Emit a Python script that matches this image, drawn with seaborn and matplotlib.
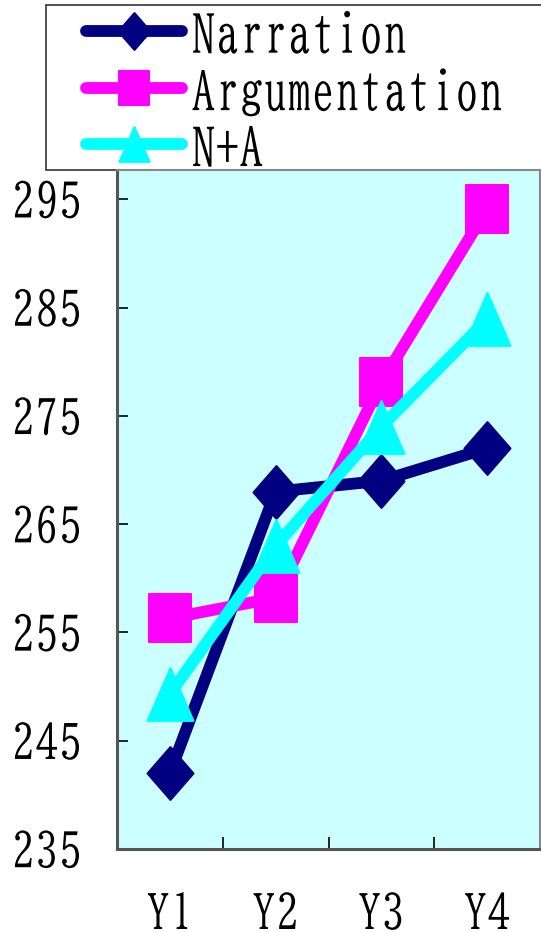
import matplotlib
matplotlib.use("Agg")
import matplotlib.pyplot as plt
import seaborn as sns
from matplotlib import patheffects
from matplotlib.path import Path
from matplotlib.patches import Rectangle
from matplotlib.transforms import Affine2D

# Scores per school year
years = ["Y1", "Y2", "Y3", "Y4"]
narration = [242.0, 268.0, 269.0, 272.0]
argumentation = [256.3, 258.2, 278.1, 294.1]
n_plus_a = [249.3, 263.0, 274.0, 283.9]
series_names = ["Narration", "Argumentation", "N+A"]
y_ticks = [235, 245, 255, 265, 275, 285, 295]

colors = ["#000080", "#FF00FF", "#00FFFF"]

plt.rcParams["font.family"] = ["BIZ UDMincho", "DejaVu Serif"]


class TallText(patheffects.AbstractPathEffect):
    """Stretch glyphs vertically about the middle of the cap height,
    optionally nudging them up or down (glyph units, 100 per em)."""

    def __init__(self, sy, yc=36, dy=0):
        super().__init__()
        self._t = Affine2D().translate(0, -yc).scale(1, sy).translate(0, yc + dy)

    def draw_path(self, renderer, gc, tpath, affine, rgbFace=None):
        renderer.draw_path(gc, tpath, self._t + affine, rgbFace)


# slightly tall marker shapes
diamond = Path([(0, 1), (0.87, 0), (0, -1), (-0.87, 0), (0, 1)], closed=True)
square = Path([(-0.88, -1), (0.88, -1), (0.88, 1), (-0.88, 1), (-0.88, -1)], closed=True)
triangle = Path([(0, 1), (0.87, -1), (-0.87, -1), (0, 1)], closed=True)
markers = [diamond, square, triangle]
marker_sizes = [38, 35, 38]
legend_marker_sizes = [26.5, 24, 25]

fig = plt.figure(figsize=(5.41, 9.32), dpi=100)
ax = fig.add_axes([117 / 541, (932 - 849) / 932, 423 / 541, 679 / 932])
ax.set_facecolor("#CCFFFF")

for name, vals, col, mk, ms in zip(series_names, [narration, argumentation, n_plus_a],
                                   colors, markers, marker_sizes):
    sns.lineplot(x=years, y=vals, ax=ax, sort=False, color=col, linewidth=8.5,
                 marker=mk, markersize=ms, markerfacecolor=col, markeredgecolor=col,
                 markeredgewidth=1.5, solid_capstyle="round", solid_joinstyle="round",
                 label=name)

ax.set_xlim(-0.5, 3.5)
ax.set_ylim(235, 297.7)
ax.set_yticks(y_ticks)
ax.set_xticks(range(len(years)))
ax.set_xticklabels(years)
ax.set_xticks([0.5, 1.5, 2.5], minor=True)
ax.set_xlabel("")
ax.set_ylabel("")

tick_fs = 34
ax.tick_params(axis="y", direction="in", length=8, width=1.2, color="black",
               pad=25, labelsize=tick_fs)
ax.tick_params(axis="x", which="major", length=0, pad=30, labelsize=tick_fs)
ax.tick_params(axis="x", which="minor", direction="in", length=8.6, width=1.2,
               color="black")

for side in ["left", "bottom"]:
    ax.spines[side].set_linewidth(2.2)
    ax.spines[side].set_color("#555555")
for side in ["top", "right"]:
    ax.spines[side].set_linewidth(1.5)
    ax.spines[side].set_color("#888888")

handles, labels = ax.get_legend_handles_labels()
leg = ax.legend(handles, labels, loc="upper left",
                bbox_to_anchor=(86 / 541, 1 - 10 / 932), bbox_transform=fig.transFigure,
                frameon=False, fontsize=34.5, handlelength=2.0, handletextpad=0.2,
                labelspacing=0.26, borderpad=0, borderaxespad=0)
for h, ms in zip(leg.legend_handles, legend_marker_sizes):
    h.set_markersize(ms)
for t in leg.get_texts():
    t.set_path_effects([TallText(1.08, dy=-8)])

fig.patches.append(Rectangle((46 / 541, 1 - 170 / 932), 520 / 541, 165 / 932,
                             transform=fig.transFigure, facecolor="white",
                             edgecolor="#333333", linewidth=1.2, zorder=-1))

for lbl in ax.get_yticklabels():
    lbl.set_path_effects([TallText(1.0)])
for lbl in ax.get_xticklabels():
    lbl.set_path_effects([TallText(1.0, dy=-4)])

fig.savefig("out.png", dpi=100)
